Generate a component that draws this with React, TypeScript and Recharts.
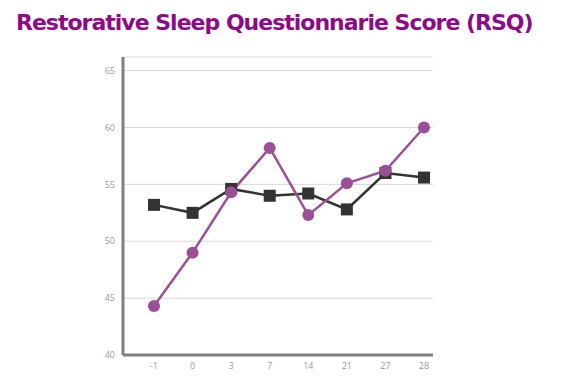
import React from 'react';
import { LineChart, Line, XAxis, YAxis, CartesianGrid } from 'recharts';

const days = ['-1', '0', '3', '7', '14', '21', '27', '28'];
const purpleScores = [44.3, 49.0, 54.3, 58.2, 52.3, 55.1, 56.2, 60.0];
const blackScores = [53.2, 52.5, 54.6, 54.0, 54.2, 52.8, 56.0, 55.6];
const yTicks = [40, 45, 50, 55, 60, 65];

const data = days.map((d, i) => ({ day: d, purple: purpleScores[i], black: blackScores[i] }));

const SquareDot = (props: any) => {
  const { cx, cy, index } = props;
  if (cx == null || cy == null) return null;
  return <rect key={`sq-${index}`} x={cx - 6} y={cy - 6} width={12} height={12} fill="#333333" />;
};

export default function App() {
  return (
    <div style={{ position: 'relative', width: 571, height: 382, margin: -8, background: '#fff' }}>
      <div
        style={{
          position: 'absolute',
          left: 16,
          top: 10,
          fontFamily: '"DejaVu Sans", Verdana, sans-serif',
          fontWeight: 'bold',
          fontSize: 22,
          color: '#8e0a86',
          letterSpacing: -1,
          whiteSpace: 'nowrap',
        }}
      >
        Restorative Sleep Questionnarie Score (RSQ)
      </div>
      <LineChart
        width={571}
        height={382}
        data={data}
        margin={{ top: 57, right: 138, bottom: 7, left: 93 }}
      >
        <CartesianGrid vertical={false} stroke="#d9d9d9" strokeWidth={1} />
        <XAxis
          dataKey="day"
          axisLine={{ stroke: '#7f7f7f', strokeWidth: 3 }}
          tickLine={false}
          tick={{ fontSize: 9, fill: '#999999', fontFamily: '"Open Sans", sans-serif' }}
          padding={{ left: 31, right: 9 }}
          height={20}
          interval={0}
        />
        <YAxis
          domain={[40, 66.2]}
          ticks={yTicks}
          axisLine={{ stroke: '#7f7f7f', strokeWidth: 3 }}
          tickLine={false}
          tick={{ fontSize: 9, fill: '#999999', fontFamily: '"Open Sans", sans-serif' }}
          width={30}
        />
        <Line
          dataKey="black"
          stroke="#333333"
          strokeWidth={2.5}
          dot={<SquareDot />}
          isAnimationActive={false}
        />
        <Line
          dataKey="purple"
          stroke="#9b4f96"
          strokeWidth={2.5}
          dot={{ r: 6, fill: '#9b4f96', stroke: '#9b4f96', strokeWidth: 0 }}
          isAnimationActive={false}
        />
      </LineChart>
    </div>
  );
}
